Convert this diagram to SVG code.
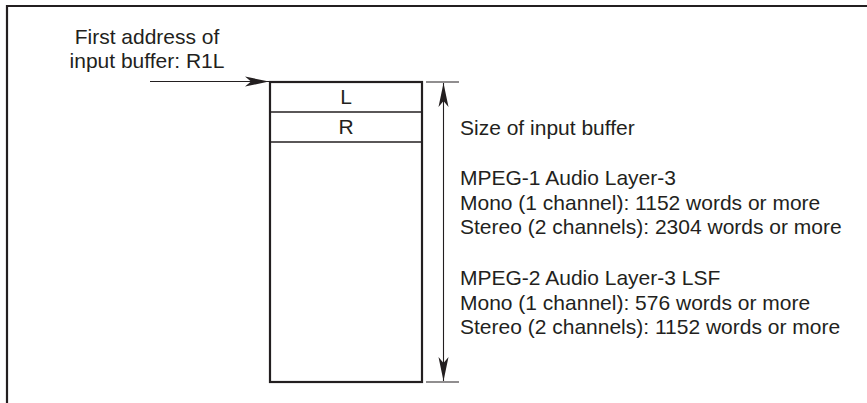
<svg xmlns="http://www.w3.org/2000/svg" width="867" height="403" viewBox="0 0 867 403">
<style>
text{font-family:"Liberation Sans",Arial,sans-serif;font-size:21px;fill:#231f20}
.frame{fill:none;stroke:#231f20;stroke-width:2.2}
.box{fill:#fff;stroke:#231f20;stroke-width:2.2}
.div{stroke:#231f20;stroke-width:1.4}
.thin{stroke:#231f20;stroke-width:1.1;fill:none}
</style>
<defs>
<marker id="ah" markerUnits="userSpaceOnUse" markerWidth="30" markerHeight="14" refX="0" refY="0" viewBox="-24 -7 26 14" orient="auto-start-reverse">
<path d="M0,0 L-24,-5 L-18,0 L-24,5 Z" fill="#231f20"/>
</marker>
</defs>
<g id="frame">
<path class="frame" d="M7,403 V6 H867"/>
</g>
<g id="buffer">
<rect class="box" x="270" y="82" width="152" height="300"/>
<line class="div" x1="270" y1="112" x2="422" y2="112"/>
<line class="div" x1="270" y1="142" x2="422" y2="142"/>
<text x="346" y="104" text-anchor="middle">L</text>
<text x="346" y="133.5" text-anchor="middle">R</text>
</g>
<g id="label-first">
<text x="147" y="44" text-anchor="middle">First address of</text>
<text x="147" y="68" text-anchor="middle">input buffer: R1L</text>
</g>
<g id="size-label">
<text x="460" y="134.5">Size of input buffer</text>
<text x="460" y="185">MPEG-1 Audio Layer-3</text>
<text x="460" y="209.5">Mono (1 channel): 1152 words or more</text>
<text x="460" y="234">Stereo (2 channels): 2304 words or more</text>
<text x="460" y="285">MPEG-2 Audio Layer-3 LSF</text>
<text x="460" y="309.5">Mono (1 channel): 576 words or more</text>
<text x="460" y="334">Stereo (2 channels): 1152 words or more</text>
</g>
<g id="connectors">
<line class="thin" x1="150" y1="81.5" x2="269" y2="81.5" marker-end="url(#ah)"/>
<line class="thin" x1="426" y1="82" x2="459" y2="82"/>
<line class="thin" x1="426" y1="382" x2="459" y2="382"/>
<line class="thin" x1="443.5" y1="83" x2="443.5" y2="381" marker-start="url(#ah)" marker-end="url(#ah)"/>
</g>
</svg>
